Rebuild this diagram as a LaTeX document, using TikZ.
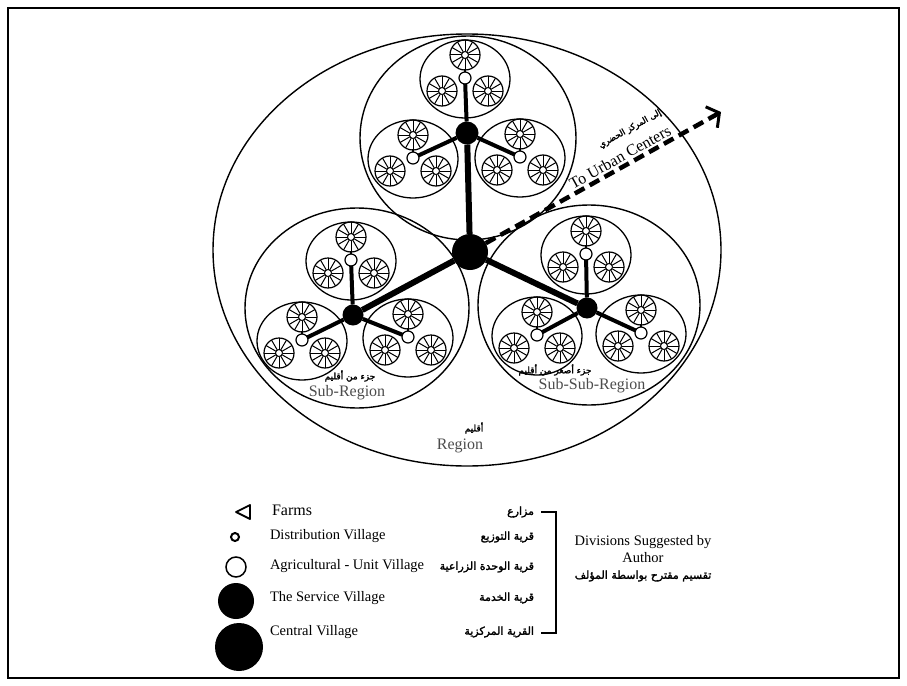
\documentclass[tikz,border=0pt]{standalone}
\usepackage{fontspec}
\setmainfont{Liberation Serif}
\newfontfamily\arabicfont[Script=Arabic,FakeBold=2]{DejaVu Sans}
\TeXXeTstate=1
\usetikzlibrary{arrows.meta}
\newcommand\artxt[1]{{\arabicfont\beginR #1\endR}}

\tikzset{
  farm/.pic={
    \draw[line width=1.2pt] (0,0) circle[radius=15pt];
    \draw[line width=1pt] (0,0) circle[radius=3.5pt];
    \foreach \a in {0,30,...,330} \draw[line width=1pt] (\a:3.5pt) -- (\a:15pt);
  },
  unit/.pic={
    \draw[line width=1.3pt] (0,1) ellipse[x radius=45pt, y radius=39pt];
    \pic at (0,-23) {farm};
    \pic at (-23,13) {farm};
    \pic at (23,13) {farm};
    \draw[line width=1.2pt] (0,0) -- (0,-9);
    \node[village] (-v) at (0,0) {};
  },
}

\begin{document}
\begin{tikzpicture}[x=1pt,y=-1pt,
  every node/.style={inner sep=0pt, outer sep=0pt},
  ring/.style={line width=1.4pt},
  village/.style={circle, draw, fill=white, line width=1.2pt, minimum size=12pt},
  service/.style={circle, fill=black, minimum size=23pt},
  central/.style={circle, fill=black, minimum size=36pt},
  road/.style={line width=4pt},
  mainroad/.style={line width=6pt},
  urban/.style={line width=4.5pt, dash pattern=on 11pt off 6pt,
    -{Straight Barb[length=9pt,width=24pt,line width=3pt]}},
  lbl/.style={font=\fontsize{14.5}{17}\selectfont, anchor=west},
  arlbl/.style={font=\arabicfont\fontsize{11}{13}\selectfont, anchor=east},
  regionlbl/.style={font=\fontsize{16}{19}\selectfont, text=black!70},
  arsmall/.style={font=\arabicfont\fontsize{9}{11}\selectfont},
]
\useasboundingbox (0,0) rectangle (907,685);
\draw[line width=1.5pt] (8,8) rectangle (899,678);

% region and its three sub-regions
\draw[ring] (467,250) ellipse[x radius=254pt, y radius=216pt];
\draw[ring] (468,138) ellipse[x radius=108pt, y radius=102pt];
\draw[ring] (357,308) ellipse[x radius=112pt, y radius=100pt];
\draw[ring] (589,305) ellipse[x radius=111pt, y radius=100pt];

% agricultural units: village with three farms
\pic (TU) at (465,78) {unit};
\pic (TL) at (413,158) {unit};
\pic (TR) at (520,157) {unit};
\pic (LU) at (351,260) {unit};
\pic (LL) at (302,340) {unit};
\pic (LR) at (408,337) {unit};
\pic (RU) at (586,254) {unit};
\pic (RL) at (537,335) {unit};
\pic (RR) at (641,333) {unit};

% service villages and central village
\node[service] (TS) at (467,133) {};
\node[service, minimum size=21pt] (LS) at (353,315) {};
\node[service, minimum size=21pt] (RS) at (587,308) {};
\node[central] (C) at (470,252) {};

% roads
\draw[mainroad] (C) -- (TS);
\draw[mainroad] (C) -- (LS);
\draw[mainroad] (C) -- (RS);
\foreach \s/\u in {TS/TU,TS/TL,TS/TR,LS/LU,LS/LL,LS/LR,RS/RU,RS/RL,RS/RR}
  \draw[road] (\s) -- (\u-v);

% link to urban centers
\coordinate (urb) at (721,112);
\draw[urban] (C) -- (urb);
\node[rotate=29, font=\fontsize{16}{19}\selectfont] (tuc) at (620,157) {To Urban Centers};
\node[rotate=29, font=\arabicfont\fontsize{8.5}{10}\selectfont] (tuca) at (630,129) {\artxt{إلى المركز الحضري}};

% region labels
\node[arsmall] (sra) at (350,376) {\artxt{جزء من أقليم}};
\node[regionlbl] (sr) at (347,393) {Sub-Region};
\node[arsmall] (ssra) at (555,370) {\artxt{جزء أصغر من أقليم}};
\node[regionlbl] (ssr) at (592,386) {Sub-Sub-Region};
\node[arsmall] (rga) at (474,428) {\artxt{أقليم}};
\node[regionlbl] (rg) at (460,446) {Region};

% legend symbols
\draw[line width=1.8pt, line join=round] (236,512) -- (250,505) -- (250,519) -- cycle;
\node[circle, draw, line width=2pt, minimum size=8pt] (kd) at (235,537) {};
\node[circle, draw, line width=1.5pt, minimum size=20pt] (ka) at (236,567) {};
\node[circle, fill=black, minimum size=36pt] (ks) at (236,601) {};
\node[circle, fill=black, minimum size=48pt] (kc) at (239,647) {};

% legend texts
\node[lbl, font=\fontsize{16}{19}\selectfont] (tf) at (272,510) {Farms};
\node[lbl] (td) at (270,536) {Distribution Village};
\node[lbl] (ta) at (270,566) {Agricultural - Unit Village};
\node[lbl] (tsv) at (270,598) {The Service Village};
\node[lbl] (tc) at (270,632) {Central Village};

\node[arlbl] (af) at (534,512) {\artxt{مزارع}};
\node[arlbl] (ad) at (534,537) {\artxt{قرية التوزيع}};
\node[arlbl] (aa) at (534,567) {\artxt{قرية الوحدة الزراعية}};
\node[arlbl] (as) at (534,598) {\artxt{قرية الخدمة}};
\node[arlbl] (ac) at (534,632) {\artxt{القرية المركزية}};

% bracket and note
\draw[line width=1.5pt] (541,512) -- (556,512) -- (556,633) -- (541,633);
\node[font=\fontsize{14.5}{17}\selectfont] (dv1) at (643,542) {Divisions Suggested by};
\node[font=\fontsize{14.5}{17}\selectfont] (dv2) at (643,558) {Author};
\node[font=\arabicfont\fontsize{11}{13}\selectfont] (dv3) at (643,576) {\artxt{تقسيم مقترح بواسطة المؤلف}};
\end{tikzpicture}
\end{document}
